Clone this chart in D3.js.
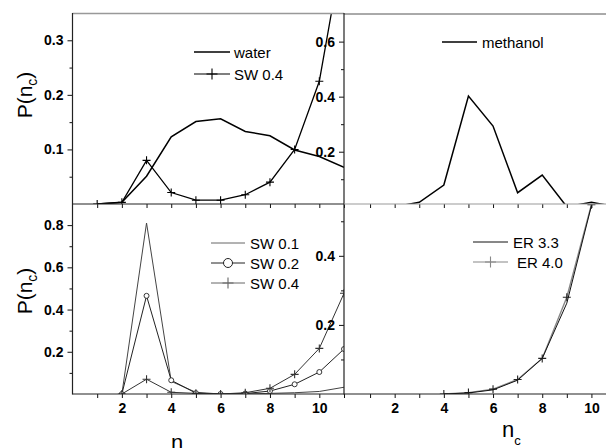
<!DOCTYPE html>
<html>
<head>
<meta charset="utf-8">
<script src="https://cdn.jsdelivr.net/npm/d3@7"></script>
<style>
  body { margin: 0; background: #fff; }
  svg { display: block; font-family: "Liberation Sans", Arial, sans-serif; }
</style>
</head>
<body>
<svg id="chart" width="606" height="448"></svg>
<script>
// cluster size n_c for each panel
const nTop = [1, 2, 3, 4, 5, 6, 7, 8, 9, 10, 11];
const nMethanol = [1, 2, 3, 4, 5, 6, 7, 8, 9, 10, 11];
const nSW = [2, 3, 4, 5, 6, 7, 8, 9, 10, 11];
const nER = [4, 5, 6, 7, 8, 9, 10];

// top left: water and SW 0.4
const waterP = [0, 0.003, 0.051, 0.123, 0.151, 0.156, 0.133, 0.125, 0.099, 0.087, 0.067];
const sw04TopP = [0, 0.003, 0.08, 0.021, 0.007, 0.007, 0.017, 0.04, 0.1, 0.225, 0.48];
// top right: methanol
const methanolP = [0, 0, 0.016, 0.079, 0.402, 0.293, 0.051, 0.115, 0, 0.016, 0];
// bottom left: SW at three strengths
const sw01P = [0, 0.81, 0.06, 0.008, 0, 0, 0.003, 0.006, 0.012, 0.032];
const sw02P = [0, 0.465, 0.065, 0.004, 0, 0.002, 0.014, 0.046, 0.104, 0.213];
const sw04P = [0, 0.07, 0.008, 0.003, 0, 0.006, 0.027, 0.093, 0.216, 0.477];
// bottom right: ER
const er33P = [0, 0.003, 0.012, 0.04, 0.103, 0.263, 0.545];
const er40P = [0, 0.004, 0.014, 0.042, 0.103, 0.28, 0.548];

const xTicks = [1, 2, 3, 4, 5, 6, 7, 8, 9, 10, 11];
const xLabels = [2, 4, 6, 8, 10];

const svg = d3.select("#chart");
const plusPath = (s) => `M${-s},0H${s}M0,${-s}V${s}`;

function makePanel(id, left, right, top, bottom, xDomain, yDomain) {
  const x = d3.scaleLinear().domain(xDomain).range([left, right]);
  const y = d3.scaleLinear().domain(yDomain).range([bottom, top]);
  svg.append("clipPath").attr("id", id)
      .append("rect")
      .attr("x", left).attr("y", top)
      .attr("width", right - left).attr("height", bottom - top);
  const g = svg.append("g");
  const plot = g.append("g").attr("clip-path", `url(#${id})`);
  return {g, plot, x, y, left, right, top, bottom};
}

function yAxis(p, major, minor) {
  const ax = p.g.append("g").attr("transform", `translate(${p.left},0)`);
  ax.append("g")
      .call(d3.axisLeft(p.y).tickValues(minor).tickSize(3).tickFormat(""));
  ax.append("g")
      .call(d3.axisLeft(p.y).tickValues(major).tickSize(5).tickPadding(4).tickFormat(d3.format(".1f")));
  ax.selectAll(".domain").remove();
  ax.selectAll("text")
      .attr("font-size", 14).attr("font-weight", "bold")
      .attr("font-family", "Liberation Sans, Arial, sans-serif");
  ax.selectAll("line").attr("stroke", "#111");
}

function xAxis(p, labelled) {
  const ax = p.g.append("g").attr("transform", `translate(0,${p.bottom})`);
  ax.call(d3.axisBottom(p.x).tickValues(xTicks).tickSize(4).tickPadding(5)
      .tickFormat((d) => (labelled && xLabels.includes(d) ? d : "")));
  ax.selectAll(".domain").remove();
  ax.selectAll("text")
      .attr("font-size", 14).attr("font-weight", "bold")
      .attr("font-family", "Liberation Sans, Arial, sans-serif");
  ax.selectAll("line").attr("stroke", "#111");
}

function drawSeries(p, ns, vals, opts) {
  const pts = ns.map((n, i) => ({n, v: vals[i]}));
  const line = d3.line().x((d) => p.x(d.n)).y((d) => p.y(d.v));
  p.plot.append("path")
      .datum(pts)
      .attr("fill", "none")
      .attr("stroke", opts.stroke)
      .attr("stroke-width", opts.width)
      .attr("d", line);
  if (opts.marker === "plus") {
    p.plot.selectAll(null).data(pts).enter().append("path")
        .attr("transform", (d) => `translate(${p.x(d.n)},${p.y(d.v)})`)
        .attr("d", plusPath(4))
        .attr("stroke", opts.markerStroke || opts.stroke)
        .attr("stroke-width", 1.1);
  } else if (opts.marker === "circle") {
    p.plot.selectAll(null).data(pts).enter().append("circle")
        .attr("cx", (d) => p.x(d.n))
        .attr("cy", (d) => p.y(d.v))
        .attr("r", 2.5)
        .attr("fill", "#fff")
        .attr("stroke", opts.stroke)
        .attr("stroke-width", 0.9);
  }
}

function legend(items) {
  items.forEach((it) => {
    const g = svg.append("g");
    g.append("line")
        .attr("x1", it.x).attr("x2", it.x + it.len)
        .attr("y1", it.y).attr("y2", it.y)
        .attr("stroke", it.stroke).attr("stroke-width", it.width);
    const mx = it.x + it.len / 2;
    if (it.marker === "plus") {
      g.append("path")
          .attr("transform", `translate(${mx},${it.y})`)
          .attr("d", plusPath(5.5))
          .attr("stroke", it.stroke).attr("stroke-width", 1.1);
    } else if (it.marker === "circle") {
      g.append("circle")
          .attr("cx", mx).attr("cy", it.y).attr("r", 4.5)
          .attr("fill", "#fff").attr("stroke", it.stroke);
    }
    g.append("text")
        .attr("x", it.tx).attr("y", it.y + 5.5)
        .attr("font-size", 15)
        .text(it.label);
  });
}

// panels
const tl = makePanel("clipTL", 72.5, 344, 13, 204, [0, 11], [0, 0.35]);
const tr = makePanel("clipTR", 344, 616, 13, 204, [-0.06, 11], [0.01, 0.704]);
const bl = makePanel("clipBL", 72.5, 344, 204, 394, [0, 11], [0, 0.9]);
const br = makePanel("clipBR", 344, 616, 204, 394, [-0.06, 11], [0, 0.55]);

drawSeries(tl, nTop, waterP, {stroke: "#000", width: 1.5});
drawSeries(tl, nTop, sw04TopP, {stroke: "#000", width: 1.3, marker: "plus"});
drawSeries(tr, nMethanol, methanolP, {stroke: "#000", width: 1.5});
drawSeries(bl, nSW, sw01P, {stroke: "#444", width: 1});
drawSeries(bl, nSW, sw02P, {stroke: "#222", width: 1, marker: "circle"});
drawSeries(bl, nSW, sw04P, {stroke: "#333", width: 1, marker: "plus"});
drawSeries(br, nER, er40P, {stroke: "#888", width: 1.4, marker: "plus", markerStroke: "#222"});
drawSeries(br, nER, er33P, {stroke: "#111", width: 1});

// frame
const frame = svg.append("g").attr("fill", "none");
frame.append("line").attr("x1", 72.5).attr("x2", 344).attr("y1", 13.5).attr("y2", 13.5)
    .attr("stroke", "#999").attr("stroke-width", 1.6);
frame.append("line").attr("x1", 344).attr("x2", 606).attr("y1", 14).attr("y2", 14)
    .attr("stroke", "#555").attr("stroke-width", 1);
frame.append("line").attr("x1", 72.5).attr("x2", 72.5).attr("y1", 13).attr("y2", 394.5)
    .attr("stroke", "#222").attr("stroke-width", 1.2);
frame.append("line").attr("x1", 344).attr("x2", 344).attr("y1", 13).attr("y2", 394.5)
    .attr("stroke", "#222").attr("stroke-width", 1.2);
frame.append("line").attr("x1", 72.5).attr("x2", 344).attr("y1", 204).attr("y2", 204)
    .attr("stroke", "#222").attr("stroke-width", 1.2);
frame.append("line").attr("x1", 344).attr("x2", 606).attr("y1", 204).attr("y2", 204)
    .attr("stroke", "#999").attr("stroke-width", 1.2);
frame.append("line").attr("x1", 72.5).attr("x2", 606).attr("y1", 394).attr("y2", 394)
    .attr("stroke", "#222").attr("stroke-width", 1.2);

// axes
yAxis(tl, [0.1, 0.2, 0.3], [0.05, 0.15, 0.25]);
yAxis(tr, [0.2, 0.4, 0.6], [0.1, 0.3, 0.5]);
yAxis(bl, [0.2, 0.4, 0.6, 0.8], [0.1, 0.3, 0.5, 0.7]);
yAxis(br, [0.2, 0.4], [0.1, 0.3, 0.5]);
xAxis(tl, false);
xAxis(tr, false);
xAxis(bl, true);
xAxis(br, true);

// legends
legend([
  {label: "water", x: 194, len: 36, y: 52, tx: 234, stroke: "#000", width: 1.3},
  {label: "SW 0.4", x: 194, len: 36, y: 74, tx: 234, stroke: "#000", width: 1.1, marker: "plus"},
  {label: "methanol", x: 442, len: 35, y: 42, tx: 482, stroke: "#000", width: 1.3},
  {label: "SW 0.1", x: 211, len: 34, y: 243, tx: 250, stroke: "#666", width: 1},
  {label: "SW 0.2", x: 211, len: 34, y: 263, tx: 250, stroke: "#222", width: 1, marker: "circle"},
  {label: "SW 0.4", x: 211, len: 34, y: 283, tx: 250, stroke: "#666", width: 1, marker: "plus"},
  {label: "ER 3.3", x: 473, len: 35, y: 242, tx: 513, stroke: "#111", width: 1},
  {label: "ER 4.0", x: 473, len: 35, y: 262, tx: 517, stroke: "#888", width: 1.2, marker: "plus"},
]);

// axis titles
function yTitle(cy) {
  const t = svg.append("text")
      .attr("transform", `translate(32,${cy}) rotate(-90)`)
      .attr("text-anchor", "middle")
      .attr("font-size", 21);
  t.append("tspan").text("P(n");
  t.append("tspan").attr("dy", 5).attr("font-size", 14).text("c");
  t.append("tspan").attr("dy", -5).text(")");
}
yTitle(95);
yTitle(291);

function xTitle(x, baseline) {
  const t = svg.append("text")
      .attr("x", x).attr("y", baseline)
      .attr("font-size", 22);
  t.append("tspan").text("n");
  t.append("tspan").attr("dy", 8).attr("font-size", 13).text("c");
}
xTitle(171, 450);
xTitle(502, 437);
</script>
</body>
</html>
